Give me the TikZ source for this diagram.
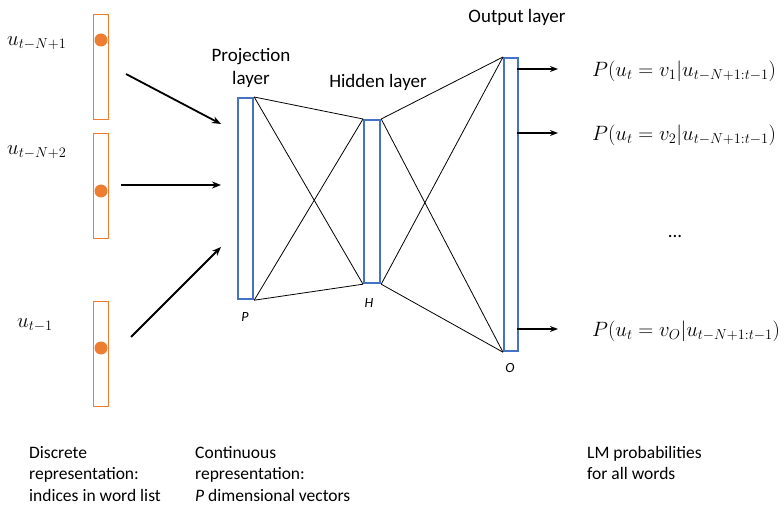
\documentclass[tikz,border=0pt]{standalone}
\usepackage{fontspec}
\setmainfont{Carlito}
\usetikzlibrary{arrows.meta}
\definecolor{wordorange}{RGB}{237,125,49}
\definecolor{layerblue}{RGB}{68,114,196}
\tikzset{
  wordbox/.style={draw=wordorange, line width=1.3pt, fill=white, minimum width=15pt, minimum height=105pt, inner sep=0pt, anchor=north west},
  layerbox/.style={draw=layerblue, line width=2.2pt, fill=white, inner sep=0pt, anchor=north west},
  hot/.style={circle, fill=wordorange, inner sep=0pt, minimum size=13pt},
  inarrow/.style={-{Stealth[length=9pt,width=7pt]}, line width=1.8pt},
  outarrow/.style={-{Stealth[length=8pt,width=6pt]}, line width=1.6pt},
  wire/.style={line width=0.8pt},
  lbl/.style={font=\fontsize{19}{23}\selectfont, align=center, inner sep=0pt},
  mathlbl/.style={font=\fontsize{20}{24}\selectfont, inner sep=0pt},
  dimlbl/.style={font=\fontsize{14}{16}\selectfont\itshape, inner sep=0pt},
  note/.style={font=\fontsize{17.5}{21.5}\selectfont, align=left, anchor=north west, inner sep=0pt},
}
\begin{document}
\begin{tikzpicture}[x=1pt,y=-1pt]
\useasboundingbox (0,0) rectangle (784,505);

% one-hot word vectors
\node[wordbox] (w1) at (93,14) {};
\node[wordbox] (w2) at (93,133) {};
\node[wordbox] (w3) at (93,301) {};
\node[hot] (d1) at (101,40) {};
\node[hot] (d2) at (101,191) {};
\node[hot] (d3) at (101,348) {};

\node[mathlbl, anchor=west] (l1) at (7,43) {$u_{t-N+1}$};
\node[mathlbl, anchor=west] (l2) at (7,152) {$u_{t-N+2}$};
\node[mathlbl, anchor=west] (l3) at (17,325) {$u_{t-1}$};

% layers
\node[layerbox, minimum width=15pt, minimum height=201pt] (P) at (237,97) {};
\node[layerbox, minimum width=16pt, minimum height=163pt] (H) at (363,119) {};
\node[layerbox, minimum width=14pt, minimum height=293pt] (O) at (503,57) {};

\node[lbl] (pt) at (251,68) {Projection\\layer};
\node[lbl] (ht) at (378,82) {Hidden layer};
\node[lbl] (ot) at (517,17) {Output layer};

\node[dimlbl] (pl) at (245,317) {P};
\node[dimlbl] (hl) at (369,303) {H};
\node[dimlbl] (ol) at (510,368) {O};

% fully connected wiring
\draw[wire] (P.north east) -- (H.north west);
\draw[wire] (P.north east) -- (H.south west);
\draw[wire] (P.south east) -- (H.north west);
\draw[wire] (P.south east) -- (H.south west);
\draw[wire] (H.north east) -- (O.north west);
\draw[wire] (H.north east) -- (O.south west);
\draw[wire] (H.south east) -- (O.north west);
\draw[wire] (H.south east) -- (O.south west);

% inputs into the projection layer
\coordinate (a1s) at (126,74);  \coordinate (a1e) at (221,124);
\coordinate (a2s) at (121,185); \coordinate (a2e) at (221,185);
\coordinate (a3s) at (131,337); \coordinate (a3e) at (221,247);
\draw[inarrow] (a1s) -- (a1e);
\draw[inarrow] (a2s) -- (a2e);
\draw[inarrow] (a3s) -- (a3e);

% outputs
\node[mathlbl, anchor=west] (p1) at (592,71) {$P(u_t = v_1|u_{t-N+1:t-1})$};
\node[mathlbl, anchor=west] (p2) at (592,135) {$P(u_t = v_2|u_{t-N+1:t-1})$};
\node[mathlbl, anchor=west] (p3) at (592,331) {$P(u_t = v_O|u_{t-N+1:t-1})$};
\node[lbl] (dots) at (675,236) {...};
\coordinate (o1) at (517,69);
\coordinate (o2) at (517,133);
\coordinate (o3) at (517,329);
\draw[outarrow] (o1) -- (558,69);
\draw[outarrow] (o2) -- (558,133);
\draw[outarrow] (o3) -- (558,329);

% captions
\node[note] (c1) at (29,446) {Discrete\\representation:\\indices in word list};
\node[note] (c2) at (195,446) {Continuous\\representation:\\\textit{P} dimensional vectors};
\node[note] (c3) at (587,446) {LM probabilities\\for all words};
\end{tikzpicture}
\end{document}
